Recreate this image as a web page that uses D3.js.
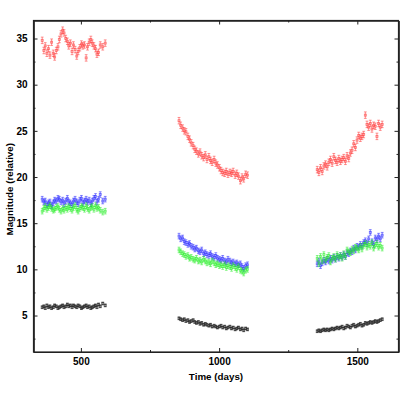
<!DOCTYPE html>
<html>
<head>
<meta charset="utf-8">
<script src="https://cdn.jsdelivr.net/npm/d3@7"></script>
<style>
  html, body { margin: 0; padding: 0; background: #fff; }
  svg { display: block; font-family: "Liberation Sans", Arial, sans-serif; }
</style>
</head>
<body>
<script>
// ---- data ----
const days1 = [360,366,371,377,383,388,394,400,405,411,417,422,428,434,439,445,451,456,462,468,
               473,479,485,490,496,502,507,513,519,524,530,536,541,547,553,558,564,570,579,588];
const days2 = [855,861,868,874,880,887,893,899,906,912,918,925,931,937,944,950,956,963,969,975,
               982,988,994,1001,1007,1013,1020,1026,1032,1039,1045,1051,1058,1064,1070,1077,1083,1089,1096,1103];
const days3 = [1355,1361,1367,1373,1379,1385,1391,1397,1403,1409,1415,1421,1427,1433,1439,1445,1451,1457,1463,1469,
               1475,1481,1487,1493,1499,1505,1511,1517,1523,1529,1535,1541,1547,1553,1559,1565,1571,1577,1583,1590];

const red1 = [34.8,33.7,34.2,33.4,33.9,33.2,34.6,33.4,33.0,33.7,34.1,34.9,35.5,35.9,35.6,35.0,34.7,34.2,34.5,33.6,
              34.3,33.8,33.1,33.6,34.0,34.4,34.2,34.3,32.9,34.1,34.6,34.9,34.5,34.2,33.9,33.3,33.5,34.3,34.1,34.5];
const red2 = [26.1,25.6,25.3,25.0,24.9,24.4,24.1,23.7,23.4,23.0,22.8,22.5,22.7,22.3,22.1,22.4,21.9,22.2,21.8,21.6,
              21.9,21.5,21.3,21.0,20.7,20.5,20.4,20.6,20.3,20.5,20.4,20.6,20.2,20.4,20.1,19.6,20.0,19.8,20.3,20.2];
const red3 = [20.8,20.5,21.0,20.6,21.2,21.4,21.1,21.6,21.9,21.5,22.2,21.8,21.6,22.0,21.7,21.9,22.1,21.7,22.3,22.0,
              22.6,22.9,23.6,23.2,24.0,24.5,24.2,24.4,24.6,26.7,25.7,25.4,25.8,25.2,25.6,25.5,24.4,25.8,25.4,25.7];

const blue1 = [17.6,17.3,17.4,17.0,17.2,17.3,16.9,17.2,17.5,17.4,17.7,17.6,17.3,17.5,17.1,17.4,17.7,17.3,17.2,17.0,
               17.4,17.6,17.3,17.1,17.5,17.7,17.2,17.4,17.6,17.3,17.5,17.1,17.4,17.7,17.9,17.3,17.6,18.1,17.4,17.6];
const blue2 = [13.6,13.3,13.4,13.0,12.9,12.7,12.8,12.5,12.4,12.2,12.3,12.0,11.9,12.1,11.7,11.8,11.6,11.5,11.7,11.4,
               11.3,11.5,11.2,11.1,11.0,11.2,10.9,10.8,11.1,10.9,10.7,10.8,10.6,10.7,10.5,10.6,10.3,10.1,10.4,10.5];
const blue3 = [10.6,10.9,10.4,10.7,11.0,10.8,11.1,10.9,11.2,11.0,11.3,11.1,11.4,11.2,11.5,11.3,11.6,11.4,11.8,11.7,
               12.0,11.9,12.3,12.1,12.5,12.4,12.7,12.5,12.9,13.1,12.8,13.3,14.0,13.0,12.7,13.4,13.2,13.6,13.3,13.7];

const green1 = [16.3,16.6,16.8,16.5,16.7,16.9,16.6,16.4,16.5,16.7,16.8,16.5,16.3,16.6,16.4,16.7,16.5,16.8,16.6,16.4,
                16.7,16.9,16.5,16.3,16.6,16.8,16.7,16.5,16.9,16.6,16.4,16.7,16.8,16.5,16.9,16.6,16.7,16.4,16.2,16.3];
const green2 = [12.1,11.9,11.7,11.6,11.4,11.5,11.2,11.3,11.1,11.0,11.2,10.9,11.0,10.8,11.1,10.9,10.7,10.8,10.6,10.9,
                10.7,10.5,10.6,10.4,10.5,10.3,10.5,10.2,10.4,10.3,10.1,10.4,10.2,10.0,10.3,9.9,9.8,9.6,9.9,10.0];
const green3 = [11.2,10.6,11.4,10.9,11.6,11.0,11.3,11.5,10.8,11.2,11.4,11.1,11.6,11.3,11.5,11.2,11.7,11.4,12.1,11.9,
                11.8,12.2,12.0,12.4,12.3,12.1,12.5,12.2,12.6,12.8,12.4,12.7,12.5,12.9,12.3,12.6,12.8,12.4,12.6,12.3];

const black1 = [5.9,6.0,5.8,6.1,5.9,6.0,5.8,5.9,6.1,6.0,5.8,5.9,6.0,6.1,5.9,6.0,6.2,6.0,6.1,5.9,
                6.1,6.0,5.9,6.1,6.0,5.8,5.9,6.0,6.1,5.9,6.0,5.8,5.9,6.0,6.1,5.9,6.2,6.0,6.3,6.1];
const black2 = [4.7,4.6,4.5,4.6,4.4,4.5,4.3,4.4,4.5,4.3,4.2,4.3,4.1,4.2,4.0,4.1,4.0,3.9,4.0,3.8,
                3.9,3.8,3.7,3.8,3.9,3.7,3.8,3.6,3.7,3.8,3.6,3.7,3.5,3.6,3.7,3.5,3.6,3.4,3.6,3.5];
const black3 = [3.3,3.4,3.3,3.4,3.5,3.4,3.5,3.4,3.5,3.6,3.5,3.6,3.7,3.6,3.7,3.8,3.6,3.7,3.9,3.8,
                3.7,3.9,4.0,3.8,3.9,4.0,4.1,3.9,4.0,4.2,4.1,4.2,4.3,4.2,4.3,4.4,4.3,4.4,4.5,4.6];

const seriesNames = ["red", "blue", "green", "black"];
const seriesErrors = [0.35, 0.3, 0.3, 0.15];
const xMajorTicks = [500, 1000, 1500];
const xMinorTicks = [750, 1250];
const yMajorTicks = [5, 10, 15, 20, 25, 30, 35];
const yMinorTicks = [2.5, 7.5, 12.5, 17.5, 22.5, 27.5, 32.5];
const xLabel = "Time (days)";
const yLabel = "Magnitude (relative)";

// ---- build table ----
const allDays = [days1, days2, days3];
const seriesValues = {
  red: [red1, red2, red3],
  blue: [blue1, blue2, blue3],
  green: [green1, green2, green3],
  black: [black1, black2, black3]
};
const colors = { red: "#ff3030", blue: "#2020ff", green: "#22ee22", black: "#222222" };

const W = 415, H = 415;
const margin = { left: 33.5, top: 20.5, right: 16.5, bottom: 63 };
const svg = d3.select("body").append("svg").attr("width", W).attr("height", H);

const x = d3.scaleLinear().domain([328.5, 1649]).range([margin.left, W - margin.right]);
const y = d3.scaleLinear().domain([1.05, 36.95]).range([H - margin.bottom, margin.top]);

const x0 = margin.left, x1 = W - margin.right, y0 = H - margin.bottom, y1 = margin.top;

// data
seriesNames.forEach((name, si) => {
  const err = seriesErrors[si];
  const pts = [];
  allDays.forEach((ds, k) => ds.forEach((d, i) => pts.push({ d, v: seriesValues[name][k][i] })));
  const g = svg.append("g").attr("stroke", colors[name]).attr("fill", "none")
    .attr("stroke-width", 0.8).attr("stroke-opacity", name === "black" ? 0.75 : 0.65);
  const p = d3.path();
  pts.forEach(o => {
    const cx = x(o.d), ya = y(o.v + err), yb = y(o.v - err);
    p.moveTo(cx, ya); p.lineTo(cx, yb);
    p.moveTo(cx - 1.4, ya); p.lineTo(cx + 1.4, ya);
    p.moveTo(cx - 1.4, yb); p.lineTo(cx + 1.4, yb);
  });
  g.append("path").attr("d", p.toString());
  g.selectAll("rect").data(pts).enter().append("rect")
    .attr("x", o => x(o.d) - 1).attr("y", o => y(o.v) - 1)
    .attr("width", 2).attr("height", 2);
});

// axes
const axisColor = "#222";
function styleAxis(g) {
  g.selectAll("path.domain").attr("stroke", axisColor).attr("stroke-width", 1.2);
  g.selectAll(".tick line").attr("stroke", axisColor).attr("stroke-width", 1);
  g.selectAll(".tick text").attr("fill", "#000").attr("font-weight", "bold").attr("font-size", "10px")
    .attr("font-family", "'Liberation Sans', Arial, sans-serif");
}
// bottom
svg.append("g").attr("transform", `translate(0,${y0})`)
  .call(d3.axisBottom(x).tickValues(xMajorTicks).tickSizeInner(-4).tickSizeOuter(0).tickPadding(6).tickFormat(d3.format("d")))
  .call(styleAxis);
svg.append("g").attr("transform", `translate(0,${y0})`)
  .call(d3.axisBottom(x).tickValues(xMinorTicks).tickSizeInner(-2).tickSizeOuter(0).tickFormat(""))
  .call(styleAxis);
// top
svg.append("g").attr("transform", `translate(0,${y1})`)
  .call(d3.axisTop(x).tickValues(xMajorTicks).tickSizeInner(-4).tickSizeOuter(0).tickFormat(""))
  .call(styleAxis);
svg.append("g").attr("transform", `translate(0,${y1})`)
  .call(d3.axisTop(x).tickValues(xMinorTicks).tickSizeInner(-2).tickSizeOuter(0).tickFormat(""))
  .call(styleAxis);
// left
svg.append("g").attr("transform", `translate(${x0},0)`)
  .call(d3.axisLeft(y).tickValues(yMajorTicks).tickSizeInner(-4).tickSizeOuter(0).tickPadding(6))
  .call(styleAxis);
svg.append("g").attr("transform", `translate(${x0},0)`)
  .call(d3.axisLeft(y).tickValues(yMinorTicks).tickSizeInner(-2).tickSizeOuter(0).tickFormat(""))
  .call(styleAxis);
// right
svg.append("g").attr("transform", `translate(${x1},0)`)
  .call(d3.axisRight(y).tickValues(yMajorTicks).tickSizeInner(-4).tickSizeOuter(0).tickFormat(""))
  .call(styleAxis);
svg.append("g").attr("transform", `translate(${x1},0)`)
  .call(d3.axisRight(y).tickValues(yMinorTicks).tickSizeInner(-2).tickSizeOuter(0).tickFormat(""))
  .call(styleAxis);

// frame
svg.append("rect").attr("x", x0).attr("y", y1).attr("width", x1 - x0).attr("height", y0 - y1)
  .attr("fill", "none").attr("stroke", axisColor).attr("stroke-width", 1.2);

// labels
svg.append("text").attr("x", (x0 + x1) / 2).attr("y", 380)
  .attr("text-anchor", "middle").attr("font-weight", "bold").attr("font-size", "9.8px").attr("fill", "#000")
  .text(xLabel);
svg.append("text").attr("transform", `translate(13,${(y0 + y1) / 2 + 3}) rotate(-90)`)
  .attr("text-anchor", "middle").attr("font-weight", "bold").attr("font-size", "9.8px").attr("fill", "#000")
  .text(yLabel);
</script>
</body>
</html>
